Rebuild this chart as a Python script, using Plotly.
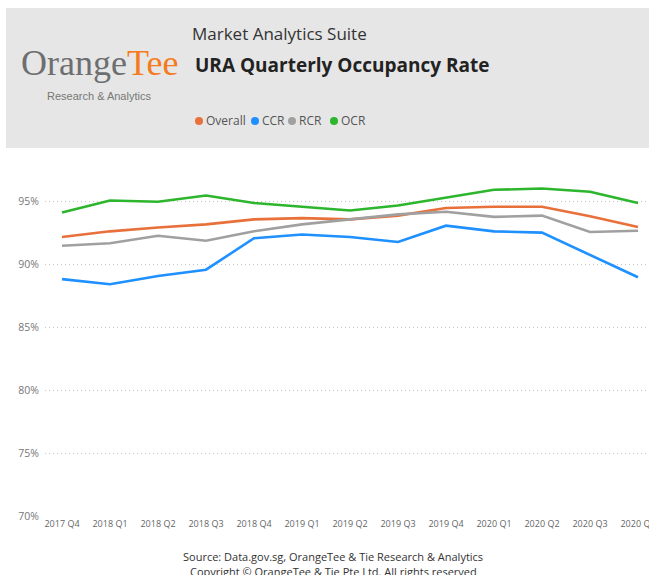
import plotly.graph_objects as go

quarters = ["2017 Q4", "2018 Q1", "2018 Q2", "2018 Q3", "2018 Q4", "2019 Q1", "2019 Q2",
            "2019 Q3", "2019 Q4", "2020 Q1", "2020 Q2", "2020 Q3", "2020 Q4"]
overall = [92.2, 92.65, 92.95, 93.2, 93.6, 93.7, 93.6, 93.9, 94.5, 94.6, 94.6, 93.85, 93.0]
ccr = [88.85, 88.45, 89.1, 89.6, 92.1, 92.4, 92.2, 91.8, 93.1, 92.65, 92.55, 90.8, 89.0]
rcr = [91.5, 91.7, 92.3, 91.9, 92.65, 93.2, 93.6, 94.0, 94.2, 93.8, 93.9, 92.6, 92.7]
ocr = [94.15, 95.1, 95.0, 95.5, 94.9, 94.6, 94.3, 94.7, 95.3, 95.95, 96.05, 95.8, 94.9]

series_names = ["Overall", "CCR", "RCR", "OCR"]
series_values = [overall, ccr, rcr, ocr]
series_colors = ["#E8703A", "#1E90FF", "#A0A0A0", "#2DB52D"]

y_ticks = [70, 75, 80, 85, 90, 95]
y_tick_labels = ["70%", "75%", "80%", "85%", "90%", "95%"]

W, H = 649, 575
ML, MR, MT, MB = 45, 0, 164, 575 - 517
PW, PH = W - ML - MR, H - MT - MB


def px(x):
    return (x - ML) / PW


def py(y):
    return (H - MB - y) / PH


fig = go.Figure()
for name, vals, col in zip(series_names, series_values, series_colors):
    fig.add_trace(go.Scatter(x=quarters, y=vals, mode="lines", name=name,
                             line=dict(color=col, width=2.6), showlegend=False))

# header background
fig.add_shape(type="rect", xref="paper", yref="paper", x0=px(6), x1=px(649),
              y0=py(148), y1=py(8), fillcolor="#E6E6E6", line=dict(width=0), layer="below")

annos = []
# logo
annos.append(dict(x=px(99), y=py(63), xref="paper", yref="paper", xanchor="center", yanchor="middle",
                  text="<span style='color:#6D6E70'>Orange</span><span style='color:#F47B20'>Tee</span>",
                  showarrow=False, font=dict(family="Liberation Serif", size=36)))
annos.append(dict(x=px(99), y=py(96), xref="paper", yref="paper", xanchor="center", yanchor="middle",
                  text="Research &amp; Analytics", showarrow=False,
                  font=dict(family="Liberation Sans", size=11, color="#777777")))
# titles
annos.append(dict(x=px(190), y=py(33), xref="paper", yref="paper", xanchor="left", yanchor="middle",
                  text="Market Analytics Suite", showarrow=False,
                  font=dict(family="Open Sans", size=17, color="#333333")))
annos.append(dict(x=px(193), y=py(65), xref="paper", yref="paper", xanchor="left", yanchor="middle",
                  text="<b>URA Quarterly Occupancy Rate</b>", showarrow=False,
                  font=dict(family="Open Sans", size=19, color="#222222")))
# legend
legend_x = [199, 255, 292, 334]
for lx, name, col in zip(legend_x, series_names, series_colors):
    fig.add_shape(type="circle", xref="paper", yref="paper", x0=px(lx - 4), x1=px(lx + 4),
                  y0=py(125), y1=py(117), fillcolor=col, line=dict(width=0))
    annos.append(dict(x=px(lx + 5), y=py(121), xref="paper", yref="paper", xanchor="left",
                      yanchor="middle", text=name, showarrow=False,
                      font=dict(family="Open Sans", size=12, color="#555555")))
# footer
annos.append(dict(x=px(333), y=py(556), xref="paper", yref="paper", xanchor="center", yanchor="middle",
                  text="Source: Data.gov.sg, OrangeTee &amp; Tie Research &amp; Analytics", showarrow=False,
                  font=dict(family="Open Sans", size=11, color="#333333")))
annos.append(dict(x=px(333), y=py(571), xref="paper", yref="paper", xanchor="center", yanchor="middle",
                  text="Copyright © OrangeTee &amp; Tie Pte Ltd. All rights reserved", showarrow=False,
                  font=dict(family="Open Sans", size=11, color="#333333")))

r0 = -17 / 48
r1 = r0 + PW / 48

fig.update_layout(
    width=W, height=H,
    margin=dict(l=ML, r=MR, t=MT, b=MB, pad=0),
    paper_bgcolor="white", plot_bgcolor="white",
    annotations=annos,
    showlegend=False,
    xaxis=dict(type="category", range=[r0, r1], showgrid=False, zeroline=False, showline=False,
               ticks="", automargin=False, tickangle=0,
               tickfont=dict(family="Open Sans", size=9, color="#666666")),
    yaxis=dict(range=[69.95, 98], tickvals=y_ticks, ticktext=y_tick_labels, showgrid=True,
               gridcolor="#C8C8C8", griddash="1px,3px", gridwidth=1, zeroline=False,
               showline=False, ticks="", automargin=False, ticklabelstandoff=5,
               tickfont=dict(family="Open Sans", size=10.5, color="#777777")),
)

fig.write_html("out.html", config={"displayModeBar": False},
               post_script="document.body.style.margin='0px';document.body.style.overflow='hidden';")
